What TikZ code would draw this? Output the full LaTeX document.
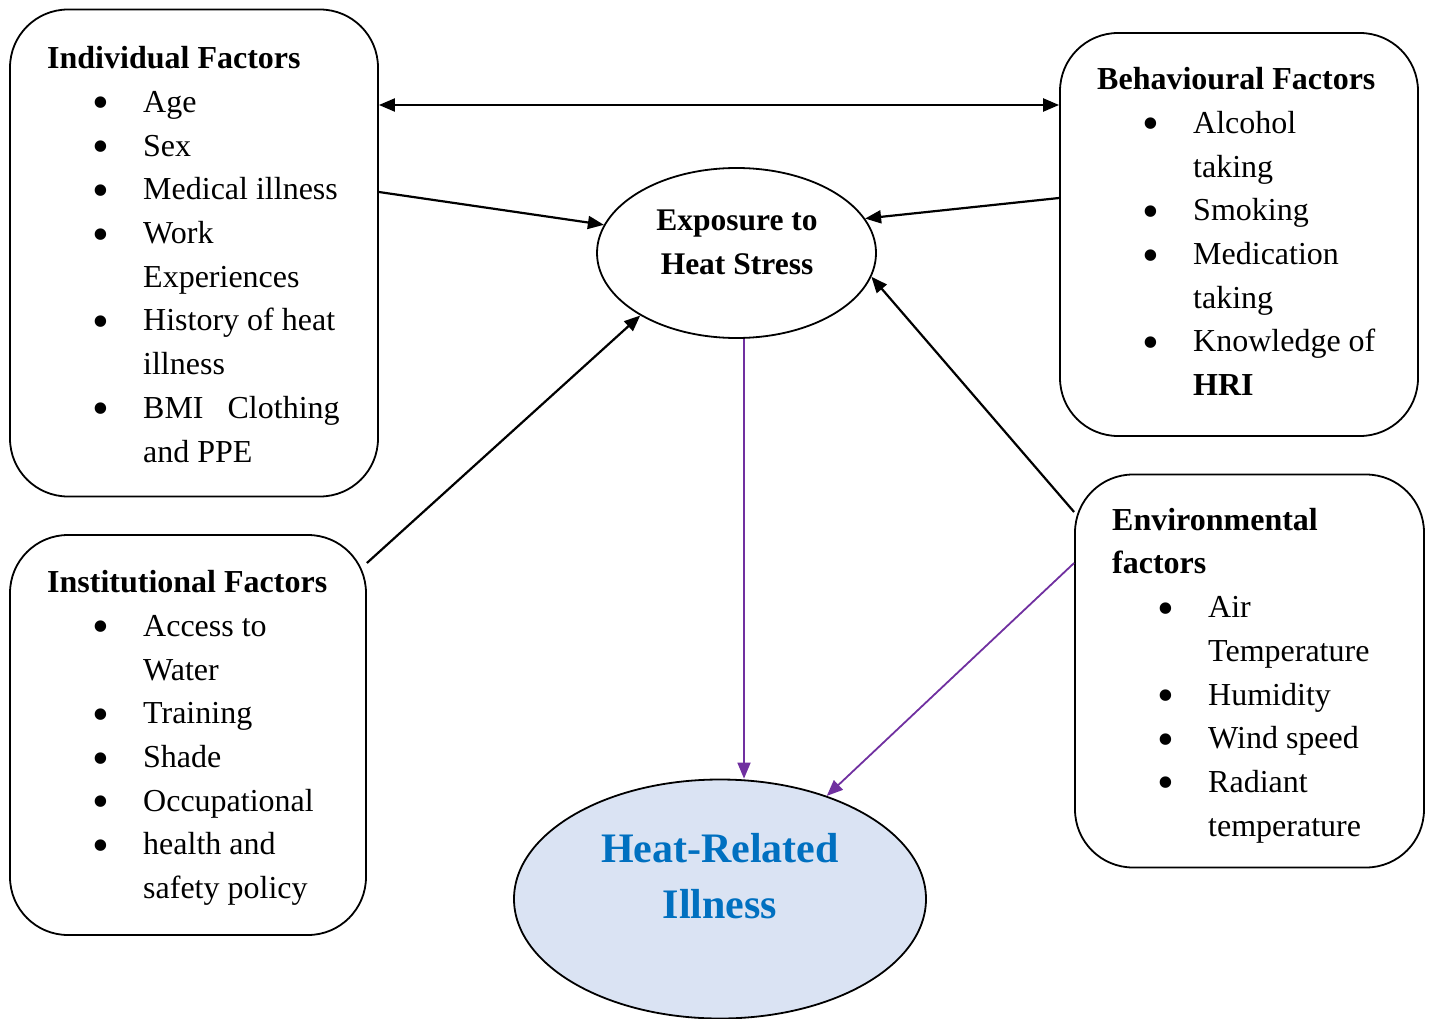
\documentclass[tikz,border=0pt]{standalone}
\usepackage{fontspec}
\setmainfont{Liberation Serif}
\usetikzlibrary{arrows.meta,shapes.geometric}
\definecolor{hriblue}{HTML}{0070C0}
\definecolor{hrifill}{HTML}{DAE3F3}
\definecolor{purp}{HTML}{7030A0}
\newcommand{\bul}[1]{\makebox[96pt][l]{\hspace*{45.5pt}\raisebox{-6.5pt}{\scalebox{1.5}{\textbullet}}}#1}
\newcommand{\cont}[1]{\hspace*{96pt}#1}
\begin{document}
\begin{tikzpicture}[x=1pt,y=-1pt,
  box/.style={draw, line width=1.8pt, rounded corners=58pt, inner sep=0pt},
  txt/.style={inner sep=0pt, align=left, anchor=north west, font=\fontsize{32}{43.7}\selectfont},
  arr/.style={line width=2.2pt, -{Triangle[length=16pt,width=13pt]}},
  parr/.style={line width=1.8pt, draw=purp, -{Triangle[length=16pt,width=13pt]}},
]
\useasboundingbox (0,0) rectangle (1429,1019);

% boxes
\node[box, minimum width=368pt, minimum height=487pt] (ind) at (194,253) {};
\node[box, minimum width=358pt, minimum height=403pt] (beh) at (1239,234.5) {};
\node[box, minimum width=356pt, minimum height=400pt] (inst) at (188,735) {};
\node[box, minimum width=349pt, minimum height=393pt] (env) at (1249.5,671) {};

% ellipses
\node[draw, line width=1.8pt, ellipse, inner sep=0pt, minimum width=279pt, minimum height=170pt] (exp) at (736.5,253) {};
\node[draw, line width=1.8pt, ellipse, fill=hrifill, inner sep=0pt, minimum width=412pt, minimum height=239pt] (hri) at (720,899) {};

% texts
\node[txt] (indt) at (47,38) {\strut\textbf{Individual Factors}\\
\bul{Age}\\ \bul{Sex}\\ \bul{Medical illness}\\ \bul{Work}\\ \cont{Experiences}\\
\bul{History of heat}\\ \cont{illness}\\ \bul{BMI\hspace{24pt}Clothing}\\ \cont{and PPE}};

\node[txt] (beht) at (1097,59) {\strut\textbf{Behavioural Factors}\\
\bul{Alcohol}\\ \cont{taking}\\ \bul{Smoking}\\ \bul{Medication}\\ \cont{taking}\\
\bul{Knowledge of}\\ \cont{\textbf{HRI}}};

\node[txt] (instt) at (47,562) {\strut\textbf{Institutional Factors}\\
\bul{Access to}\\ \cont{Water}\\ \bul{Training}\\ \bul{Shade}\\ \bul{Occupational}\\
\bul{health and}\\ \cont{safety policy}};

\node[txt] (envt) at (1112,499.5) {\strut\textbf{Environmental}\\ \textbf{factors}\\
\bul{Air}\\ \cont{Temperature}\\ \bul{Humidity}\\ \bul{Wind speed}\\ \bul{Radiant}\\
\cont{temperature}};

\node[inner sep=0pt, align=center, anchor=north, font=\fontsize{31.5}{44}\selectfont\bfseries] (expt) at (737,199) {\strut Exposure to\\ Heat Stress};

\node[inner sep=0pt, align=center, anchor=north, text=hriblue, font=\fontsize{42}{56}\selectfont\bfseries] (hrit) at (720,823.5) {\strut Heat-Related\\ Illness};

% connectors
\draw[line width=2.2pt, {Triangle[length=16pt,width=13pt]}-{Triangle[length=16pt,width=13pt]}]
  ([yshift=148pt]ind.east) -- ([yshift=129.5pt]beh.west);
\draw[arr] ([yshift=61pt]ind.east) -- (exp.168);
\draw[arr] ([yshift=36.5pt]beh.west) -- (exp.15);
\draw[arr] ([yshift=172pt]inst.east) -- (exp.213);
\draw[arr] ([yshift=159pt]env.west) -- (exp.350);
\draw[parr] ([xshift=7.5pt]exp.south) -- ([xshift=24pt]hri.north);
\draw[parr] ([yshift=108pt]env.west) -- (hri.44);
\end{tikzpicture}
\end{document}
